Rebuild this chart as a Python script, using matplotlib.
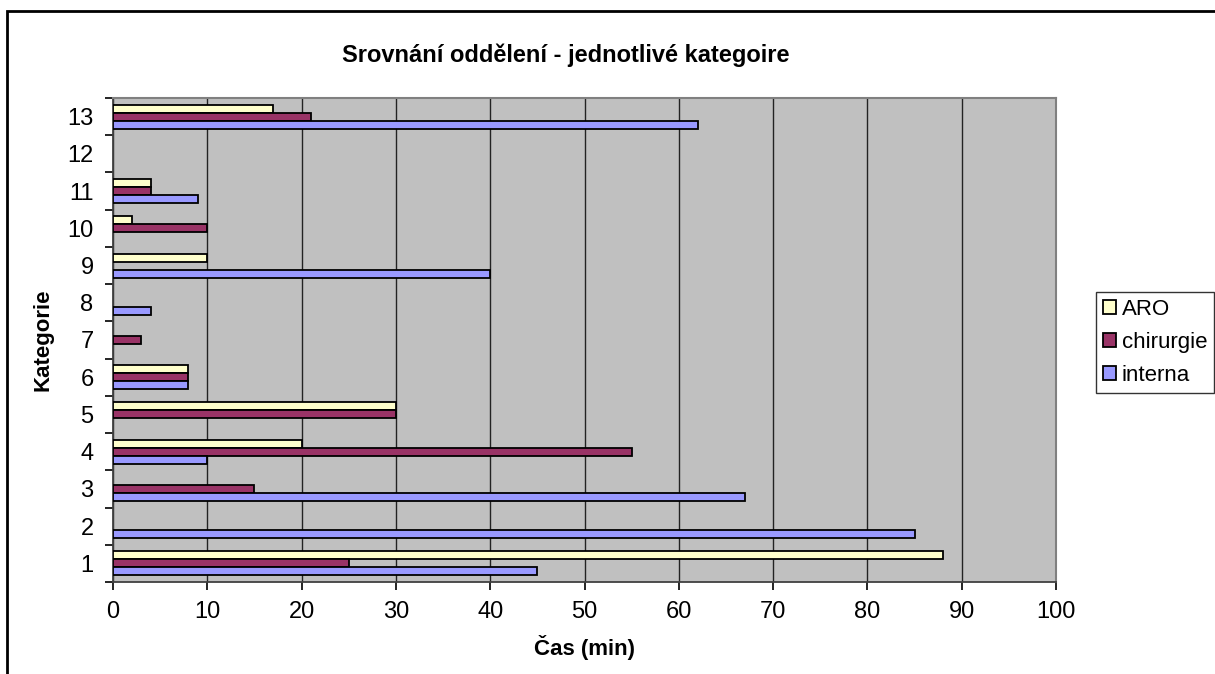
import numpy as np
import matplotlib
matplotlib.use('Agg')
import matplotlib.pyplot as plt
from matplotlib.patches import Rectangle

plt.rcParams['font.family'] = ['Liberation Sans', 'DejaVu Sans']

# data (minutes per category and department)
categories = ['1', '2', '3', '4', '5', '6', '7', '8', '9', '10', '11', '12', '13']
aro = [88, 0, 0, 20, 30, 8, 0, 0, 10, 2, 4, 0, 17]
chirurgie = [25, 0, 15, 55, 30, 8, 3, 0, 0, 10, 4, 0, 21]
interna = [45, 85, 67, 10, 0, 8, 0, 4, 40, 0, 9, 0, 62]
x_ticks = list(range(0, 101, 10))

SERIES = [('ARO', aro, '#FFFFCC'),
          ('chirurgie', chirurgie, '#993366'),
          ('interna', interna, '#9999FF')]

fig = plt.figure(figsize=(12.15, 6.74), dpi=100)
ax = fig.add_axes([113 / 1215, 1 - 582 / 674, (1056 - 113) / 1215, (582 - 98) / 674])

y = np.arange(1, len(categories) + 1)
h = 0.215
offs = {'ARO': h, 'chirurgie': 0.0, 'interna': -h}
handles = []
for name, vals, col in SERIES:
    b = ax.barh(y + offs[name], vals, height=h, color=col, edgecolor='black',
                linewidth=1.3, label=name, zorder=3)
    # empty values get no outline either
    for p, v in zip(b.patches, vals):
        if v == 0:
            p.set_visible(False)
    handles.append(b)

ax.set_facecolor('#C0C0C0')
ax.set_xlim(0, 100)
ax.set_ylim(0.5, len(categories) + 0.5)
ax.set_xticks(x_ticks)
ax.set_xticklabels([str(v) for v in x_ticks], fontsize=17)
ax.set_yticks(y)
ax.set_yticklabels(categories, fontsize=17)
ax.set_yticks(np.arange(0.5, len(categories) + 1, 1.0), minor=True)
ax.tick_params(axis='y', which='major', length=0, pad=14)
ax.tick_params(axis='y', which='minor', length=6, width=1.2, direction='out')
ax.tick_params(axis='x', which='major', length=6, width=1.2, direction='out', pad=8)
ax.grid(axis='x', color='#222222', linewidth=1.0, zorder=1)
ax.set_axisbelow(True)

for s in ['top', 'right']:
    ax.spines[s].set_color('#808080')
    ax.spines[s].set_linewidth(1.5)
for s in ['left', 'bottom']:
    ax.spines[s].set_color('#404040')
    ax.spines[s].set_linewidth(1.3)

ax.set_xlabel('Čas (min)', fontsize=16, fontweight='bold', labelpad=8)
ax.set_ylabel('Kategorie', fontsize=16, fontweight='bold', labelpad=10)
fig.text(566 / 1215, 1 - 55 / 674, 'Srovnání oddělení - jednotlivé kategoire',
         fontsize=17, fontweight='bold', ha='center', va='center')

leg = fig.legend(handles=handles, labels=[s[0] for s in SERIES], loc='upper left',
                 bbox_to_anchor=(1096 / 1215, 1 - 292 / 674), fontsize=16,
                 frameon=True, fancybox=False, edgecolor='#333333', framealpha=1,
                 handlelength=0.6, handleheight=0.6, handletextpad=0.25,
                 labelspacing=0.55, borderpad=0.3, borderaxespad=0)
leg.get_frame().set_linewidth(1.0)

# outer chart border (right and bottom edges fall outside the picture)
fig.add_artist(Rectangle((7 / 1215, -0.05), 1.1, 1 - 11 / 674 + 0.05,
                         transform=fig.transFigure, fill=False,
                         edgecolor='black', linewidth=2))

fig.savefig('out.png', dpi=100)
